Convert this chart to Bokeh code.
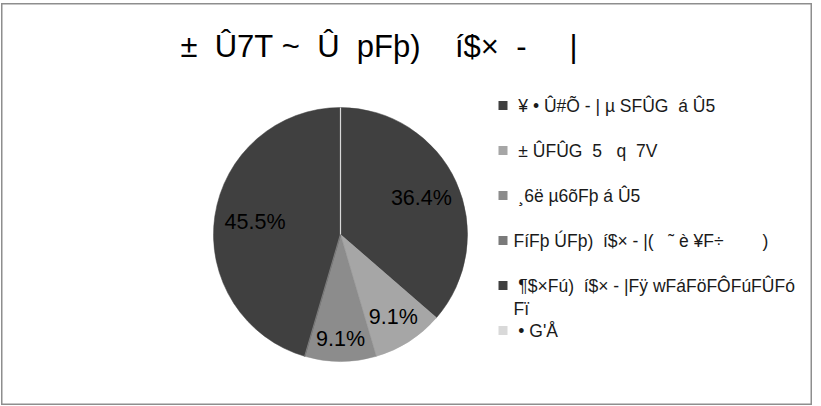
import math
from bokeh.plotting import figure
from bokeh.models import Range1d, ColumnDataSource
from bokeh.core.properties import value
from bokeh.embed import file_html
from bokeh.resources import INLINE

# ---- data ----
title_text = "±  Û7T ~  Û  pFþ)    í$×  -     |"
categories = [
    " ¥ • Û#Õ - | µ SFÛG  á Û5",
    " ± ÛFÛG  5   q  7V",
    " ¸6ë µ6õFþ á Û5",
    "FíFþ ÚFþ)  í$× - |(   ˜ è ¥F÷        )",
    " ¶$×Fú)  í$× - |Fÿ wFáFöFÔFúFÛFó\nFï",
    " • G'Å",
]
values = [4, 1, 1, 0, 5, 0]
colors = ["#404040", "#a6a6a6", "#8c8c8c", "#7a7a7a", "#404040", "#d9d9d9"]

# label placement (fraction of radius), like the spreadsheet's best-fit
label_r = [0.70, 0.77, 0.82, 0.0, 0.68, 0.0]


def keep_spaces(s):
    # SVG collapses runs of spaces; keep them visible
    return s.replace(" ", "\u00a0")


# ---- layout (page px -> data) ----
W, H = 811, 402
OX, OY = 1, 3
def dx(px):
    return px - OX
def dy(py):
    return H - (py - OY)

FONT = "Liberation Sans"

p = figure(width=W, height=H, output_backend="svg", toolbar_location=None,
           x_range=Range1d(0, W), y_range=Range1d(0, H),
           min_border=0, min_border_left=0, min_border_right=0,
           min_border_top=0, min_border_bottom=0)
p.axis.visible = False
p.grid.visible = False
p.outline_line_color = "#8e8e8e"
p.outline_line_width = 2
p.background_fill_color = "white"
p.border_fill_color = "white"
p.styles = {"margin-left": "1px", "margin-top": "3px"}

# ---- pie ----
cx, cy, R = dx(340), dy(234), 127
total = float(sum(values))
starts, ends, mids = [], [], []
cum = 0.0
for v in values:
    a0 = math.pi / 2 - 2 * math.pi * cum / total
    a1 = math.pi / 2 - 2 * math.pi * (cum + v) / total
    starts.append(a0)
    ends.append(a1)
    mids.append((a0 + a1) / 2)
    cum += v

nz = [i for i, v in enumerate(values) if v > 0]
z = [i for i, v in enumerate(values) if v == 0]

wsrc = ColumnDataSource(dict(
    x=[cx] * len(nz), y=[cy] * len(nz),
    start=[starts[i] for i in nz], end=[ends[i] for i in nz],
    color=[colors[i] for i in nz]))
p.wedge(x="x", y="y", radius=R, start_angle="start", end_angle="end",
        direction="clock", fill_color="color", line_color="color",
        line_width=0.5, source=wsrc)

if z:
    p.ray(x=[cx] * len(z), y=[cy] * len(z), length=R,
          angle=[starts[i] for i in z], line_color=[colors[i] for i in z],
          line_width=1.2)

lsrc = ColumnDataSource(dict(
    x=[cx + label_r[i] * R * math.cos(mids[i]) for i in nz],
    y=[cy + label_r[i] * R * math.sin(mids[i]) for i in nz],
    t=["%.1f%%" % (values[i] / total * 100) for i in nz]))
p.text(x="x", y="y", text="t", source=lsrc, text_font=value(FONT),
       text_font_size="21.5px", text_align="center", text_baseline="middle",
       text_color="#000000")

# ---- title ----
p.text(x=[dx(378.5)], y=[dy(46)], text=[keep_spaces(title_text)],
       text_font=value(FONT), text_font_size="31px", text_align="center",
       text_baseline="middle", text_color="#000000")

# ---- legend ----
leg_x, leg_y0, leg_dy, line_dy = 502.5, 105, 45, 23
sq_x, sq_y, tx, ty, tt = [], [], [], [], []
for i, cat in enumerate(categories):
    yy = leg_y0 + leg_dy * i
    sq_x.append(dx(leg_x))
    sq_y.append(dy(yy))
    for k, line in enumerate(cat.split("\n")):
        tx.append(dx(513))
        ty.append(dy(yy + k * line_dy))
        tt.append(keep_spaces(line))
p.rect(x=sq_x, y=sq_y, width=9, height=9, fill_color=colors, line_color=None)
p.text(x=tx, y=ty, text=tt, text_font=value(FONT), text_font_size="17.5px",
       text_align="left", text_baseline="middle", text_color="#1a1a1a")

open("out.html", "w").write(file_html(p, INLINE))
